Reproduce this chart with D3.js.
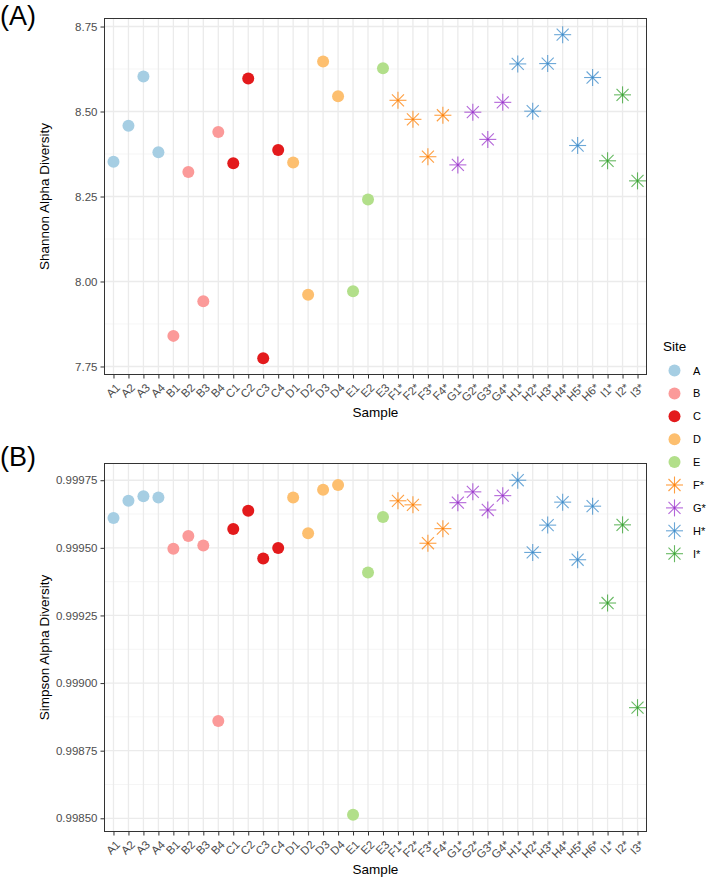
<!DOCTYPE html>
<html>
<head>
<meta charset="utf-8">
<script src="https://cdn.jsdelivr.net/npm/d3@7"></script>
<style>
body { margin: 0; background: #fff; }
svg text { font-family: "Liberation Sans", Arial, Helvetica, sans-serif; }
</style>
</head>
<body>
<svg id="chart" width="709" height="880"></svg>
<script>
// sample names on x axis
var samples = ["A1","A2","A3","A4","B1","B2","B3","B4","C1","C2","C3","C4",
  "D1","D2","D3","D4","E1","E2","E3","F1*","F2*","F3*","F4*",
  "G1*","G2*","G3*","G4*","H1*","H2*","H3*","H4*","H5*","H6*","I1*","I2*","I3*"];

var sites = ["A","B","C","D","E","F*","G*","H*","I*"];
var siteColors = ["#a6cee3","#fb9a99","#e31a1c","#fdbf6f","#b2df8a","#ff7f00","#9932cc","#3a89c9","#33a02c"];

var shannon = [8.352,8.458,8.603,8.380, 7.840,8.322,7.942,8.440,
  8.348,8.597,7.774,8.387, 8.350,7.961,8.647,8.545,
  7.971,8.241,8.627, 8.533,8.477,8.367,8.489,
  8.343,8.498,8.418,8.527, 8.640,8.501,8.641,8.726,8.400,8.600,
  8.355,8.549,8.296];

var simpson = [0.999610,0.999674,0.999691,0.999686, 0.999497,0.999544,0.999509,0.998860,
  0.999570,0.999637,0.999461,0.999499, 0.999686,0.999554,0.999715,0.999732,
  0.998513,0.999409,0.999614, 0.999674,0.999659,0.999517,0.999571,
  0.999667,0.999707,0.999640,0.999693, 0.999750,0.999483,0.999584,0.999669,0.999456,0.999654,
  0.999296,0.999585,0.998909];

var shannonTicks = [7.75, 8.00, 8.25, 8.50, 8.75];
var simpsonTicks = [0.99850, 0.99875, 0.99900, 0.99925, 0.99950, 0.99975];

function siteOf(s) {
  var l = s[0];
  return s.indexOf("*") >= 0 ? l + "*" : l;
}
var color = d3.scaleOrdinal().domain(sites).range(siteColors);

var svg = d3.select("#chart");
var left = 104.5, right = 646.5;

var x = d3.scalePoint().domain(samples).range([left, right]).padding(0.6);

// asterisk like ggplot shape 8
function star(g, cx, cy, c, r) {
  var s = g.append("g").attr("transform", "translate(" + cx + "," + cy + ")");
  [0, 45, 90, 135].forEach(function (a) {
    var t = a * Math.PI / 180;
    s.append("line")
      .attr("x1", -r * Math.cos(t)).attr("y1", -r * Math.sin(t))
      .attr("x2", r * Math.cos(t)).attr("y2", r * Math.sin(t))
      .attr("stroke", c).attr("stroke-width", 1.1).attr("stroke-opacity", 0.75);
  });
}

function drawPanel(values, ticks, minor, top, bottom, fmt, ylabel, tag, tagY) {
  var lo = d3.min(values), hi = d3.max(values), pad = (hi - lo) * 0.05;
  var y = d3.scaleLinear().domain([lo - pad, hi + pad]).range([bottom, top]);
  var g = svg.append("g");

  // grid
  g.selectAll(".minor").data(minor).enter().append("line")
    .attr("x1", left).attr("x2", right)
    .attr("y1", d => y(d)).attr("y2", d => y(d))
    .attr("stroke", "#f2f2f2").attr("stroke-width", 0.8);
  g.selectAll(".major").data(ticks).enter().append("line")
    .attr("x1", left).attr("x2", right)
    .attr("y1", d => y(d)).attr("y2", d => y(d))
    .attr("stroke", "#ebebeb").attr("stroke-width", 1.3);
  g.selectAll(".vgrid").data(samples).enter().append("line")
    .attr("x1", d => x(d)).attr("x2", d => x(d))
    .attr("y1", top).attr("y2", bottom)
    .attr("stroke", "#ebebeb").attr("stroke-width", 1.3);

  // points
  samples.forEach(function (s, i) {
    var site = siteOf(s);
    if (s.indexOf("*") >= 0) {
      star(g, x(s), y(values[i]), color(site), 8.5);
    } else {
      g.append("circle").attr("cx", x(s)).attr("cy", y(values[i]))
        .attr("r", 6).attr("fill", color(site));
    }
  });

  g.append("rect").attr("x", left).attr("y", top)
    .attr("width", right - left).attr("height", bottom - top)
    .attr("fill", "none").attr("stroke", "#333").attr("stroke-width", 1);

  // y axis
  var ya = g.append("g").attr("transform", "translate(" + left + ",0)")
    .call(d3.axisLeft(y).tickValues(ticks).tickFormat(fmt).tickSize(4).tickPadding(3));
  ya.select(".domain").remove();
  ya.selectAll("line").attr("stroke", "#333");
  ya.selectAll("text").attr("fill", "#4d4d4d").style("font-size", "11.5px");

  // x axis
  var xa = g.append("g").attr("transform", "translate(0," + bottom + ")")
    .call(d3.axisBottom(x).tickSize(4).tickPadding(3));
  xa.select(".domain").remove();
  xa.selectAll("line").attr("stroke", "#333");
  xa.selectAll("text").attr("fill", "#4d4d4d").style("font-size", "11.5px")
    .attr("text-anchor", "end").attr("dy", "0.35em")
    .attr("transform", "translate(4,11) rotate(-45)").attr("y", 0).attr("x", 0);

  g.append("text").attr("x", (left + right) / 2).attr("y", bottom + 42)
    .attr("text-anchor", "middle").style("font-size", "13.5px").attr("fill", "#000").text("Sample");
  g.append("text").attr("transform", "translate(49," + (top + bottom) / 2 + ") rotate(-90)")
    .attr("text-anchor", "middle").style("font-size", "13.5px").attr("fill", "#000").text(ylabel);

  svg.append("text").attr("x", 0).attr("y", tagY).style("font-size", "27px").text(tag);
}

drawPanel(shannon, shannonTicks, [7.875, 8.125, 8.375, 8.625], 18.5, 374.5,
  d3.format(".2f"), "Shannon Alpha Diversity", "(A)", 25);
drawPanel(simpson, simpsonTicks, [0.998625, 0.998875, 0.999125, 0.999375, 0.999625], 463.5, 831.5,
  d3.format(".5f"), "Simpson Alpha Diversity", "(B)", 466);

// legend
var leg = svg.append("g");
leg.append("text").attr("x", 663).attr("y", 351).style("font-size", "13.5px").text("Site");
sites.forEach(function (s, i) {
  var cy = 370.5 + i * 22.9;
  if (s.indexOf("*") >= 0) {
    star(leg, 674.5, cy, color(s), 8.5);
  } else {
    leg.append("circle").attr("cx", 674.5).attr("cy", cy).attr("r", 6).attr("fill", color(s));
  }
  leg.append("text").attr("x", 693).attr("y", cy + 4).style("font-size", "11px").attr("fill", "#000").text(s);
});
</script>
</body>
</html>
